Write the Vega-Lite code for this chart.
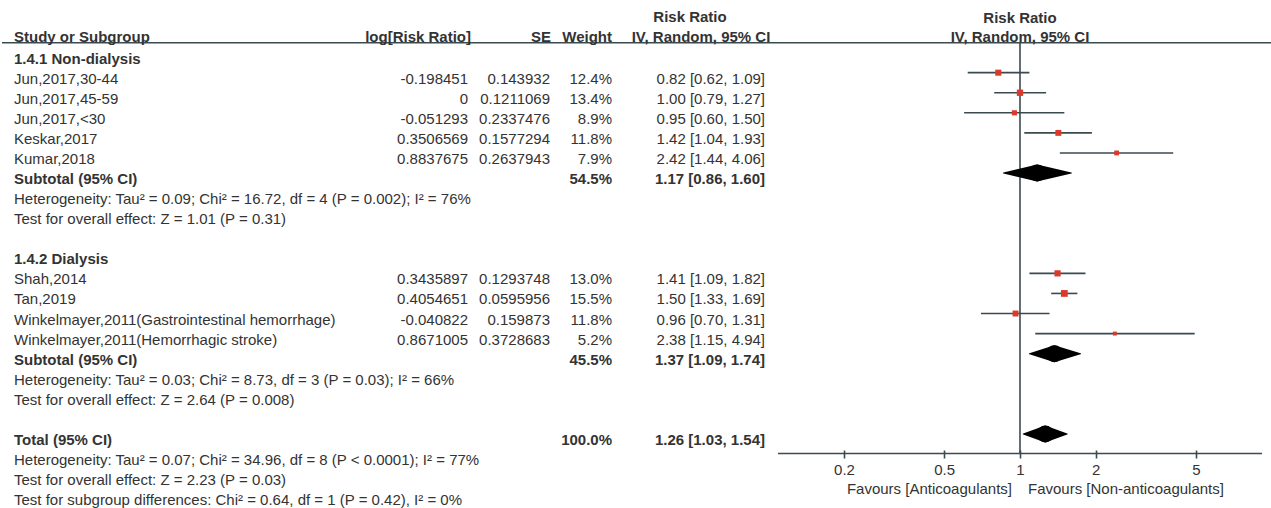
{
  "$schema": "https://vega.github.io/schema/vega-lite/v6.json",
  "padding": 0,
  "bounds": "flush",
  "spacing": 0,
  "background": "white",
  "config": {
    "view": {"stroke": null},
    "font": "Liberation Sans",
    "axisX": {"domain": false, "grid": false, "ticks": true, "tickSize": 8, "tickWidth": 1.6, "tickColor": "#3b4a50", "labelFontSize": 15, "labelColor": "#333333", "labelFont": "Liberation Sans", "labelPadding": 4, "labelFlush": false}
  },
  "datasets": {
    "table": [
      {"row": 0, "kind": "group", "label": "1.4.1 Non-dialysis"},
      {"row": 1, "kind": "study", "label": "Jun,2017,30-44", "logrr": "-0.198451", "se": "0.143932", "weight": "12.4%", "ci": "0.82 [0.62, 1.09]", "w": 12.4, "rr": 0.82, "lo": 0.62, "hi": 1.09},
      {"row": 2, "kind": "study", "label": "Jun,2017,45-59", "logrr": "0", "se": "0.1211069", "weight": "13.4%", "ci": "1.00 [0.79, 1.27]", "w": 13.4, "rr": 1.0, "lo": 0.79, "hi": 1.27},
      {"row": 3, "kind": "study", "label": "Jun,2017,<30", "logrr": "-0.051293", "se": "0.2337476", "weight": "8.9%", "ci": "0.95 [0.60, 1.50]", "w": 8.9, "rr": 0.95, "lo": 0.6, "hi": 1.5},
      {"row": 4, "kind": "study", "label": "Keskar,2017", "logrr": "0.3506569", "se": "0.1577294", "weight": "11.8%", "ci": "1.42 [1.04, 1.93]", "w": 11.8, "rr": 1.42, "lo": 1.04, "hi": 1.93},
      {"row": 5, "kind": "study", "label": "Kumar,2018", "logrr": "0.8837675", "se": "0.2637943", "weight": "7.9%", "ci": "2.42 [1.44, 4.06]", "w": 7.9, "rr": 2.42, "lo": 1.44, "hi": 4.06},
      {"row": 6, "kind": "subtotal", "label": "Subtotal (95% CI)", "weight": "54.5%", "ci": "1.17 [0.86, 1.60]", "rr": 1.17, "lo": 0.86, "hi": 1.6},
      {"row": 7, "kind": "note", "label": "Heterogeneity: Tau² = 0.09; Chi² = 16.72, df = 4 (P = 0.002); I² = 76%"},
      {"row": 8, "kind": "note", "label": "Test for overall effect: Z = 1.01 (P = 0.31)"},
      {"row": 10, "kind": "group", "label": "1.4.2 Dialysis"},
      {"row": 11, "kind": "study", "label": "Shah,2014", "logrr": "0.3435897", "se": "0.1293748", "weight": "13.0%", "ci": "1.41 [1.09, 1.82]", "w": 13.0, "rr": 1.41, "lo": 1.09, "hi": 1.82},
      {"row": 12, "kind": "study", "label": "Tan,2019", "logrr": "0.4054651", "se": "0.0595956", "weight": "15.5%", "ci": "1.50 [1.33, 1.69]", "w": 15.5, "rr": 1.5, "lo": 1.33, "hi": 1.69},
      {"row": 13, "kind": "study", "label": "Winkelmayer,2011(Gastrointestinal hemorrhage)", "logrr": "-0.040822", "se": "0.159873", "weight": "11.8%", "ci": "0.96 [0.70, 1.31]", "w": 11.8, "rr": 0.96, "lo": 0.7, "hi": 1.31},
      {"row": 14, "kind": "study", "label": "Winkelmayer,2011(Hemorrhagic stroke)", "logrr": "0.8671005", "se": "0.3728683", "weight": "5.2%", "ci": "2.38 [1.15, 4.94]", "w": 5.2, "rr": 2.38, "lo": 1.15, "hi": 4.94},
      {"row": 15, "kind": "subtotal", "label": "Subtotal (95% CI)", "weight": "45.5%", "ci": "1.37 [1.09, 1.74]", "rr": 1.37, "lo": 1.09, "hi": 1.74},
      {"row": 16, "kind": "note", "label": "Heterogeneity: Tau² = 0.03; Chi² = 8.73, df = 3 (P = 0.03); I² = 66%"},
      {"row": 17, "kind": "note", "label": "Test for overall effect: Z = 2.64 (P = 0.008)"},
      {"row": 19, "kind": "total", "label": "Total (95% CI)", "weight": "100.0%", "ci": "1.26 [1.03, 1.54]", "rr": 1.26, "lo": 1.03, "hi": 1.54},
      {"row": 20, "kind": "note", "label": "Heterogeneity: Tau² = 0.07; Chi² = 34.96, df = 8 (P < 0.0001); I² = 77%"},
      {"row": 21, "kind": "note", "label": "Test for overall effect: Z = 2.23 (P = 0.03)"},
      {"row": 22, "kind": "note", "label": "Test for subgroup differences: Chi² = 0.64, df = 1 (P = 0.42), I² = 0%"}
    ]
  },
  "hconcat": [
    {
      "width": 778,
      "height": 508,
      "layer": [
        {
          "data": {"values": [{}]},
          "mark": {"type": "rule", "stroke": "#3b4a50", "strokeWidth": 1.5},
          "encoding": {
            "x": {"datum": 2, "type": "quantitative", "scale": {"domain": [0, 778], "nice": false, "zero": false}, "axis": null},
            "x2": {"datum": 778},
            "y": {"datum": -0.49, "type": "quantitative", "scale": {"domain": [-2.621, 22.691], "reverse": true, "nice": false, "zero": false}, "axis": null}
          }
        },
        {
          "data": {"values": [{}]},
          "mark": {"type": "text", "align": "left", "baseline": "middle", "fontSize": 15, "fontWeight": "bold", "fill": "#333333"},
          "encoding": {
            "text": {"value": "Study or Subgroup"},
            "x": {"datum": 14, "type": "quantitative", "axis": null},
            "y": {"datum": -0.777, "type": "quantitative", "axis": null}
          }
        },
        {
          "data": {"values": [{}]},
          "mark": {"type": "text", "align": "right", "baseline": "middle", "fontSize": 15, "fontWeight": "bold", "fill": "#333333"},
          "encoding": {
            "text": {"value": "log[Risk Ratio]"},
            "x": {"datum": 471, "type": "quantitative", "axis": null},
            "y": {"datum": -0.777, "type": "quantitative", "axis": null}
          }
        },
        {
          "data": {"values": [{}]},
          "mark": {"type": "text", "align": "right", "baseline": "middle", "fontSize": 15, "fontWeight": "bold", "fill": "#333333"},
          "encoding": {
            "text": {"value": "SE"},
            "x": {"datum": 551, "type": "quantitative", "axis": null},
            "y": {"datum": -0.777, "type": "quantitative", "axis": null}
          }
        },
        {
          "data": {"values": [{}]},
          "mark": {"type": "text", "align": "right", "baseline": "middle", "fontSize": 15, "fontWeight": "bold", "fill": "#333333"},
          "encoding": {
            "text": {"value": "Weight"},
            "x": {"datum": 612, "type": "quantitative", "axis": null},
            "y": {"datum": -0.777, "type": "quantitative", "axis": null}
          }
        },
        {
          "data": {"values": [{}]},
          "mark": {"type": "text", "align": "center", "baseline": "middle", "fontSize": 15, "fontWeight": "bold", "fill": "#333333"},
          "encoding": {
            "text": {"value": "Risk Ratio"},
            "x": {"datum": 690, "type": "quantitative", "axis": null},
            "y": {"datum": -1.774, "type": "quantitative", "axis": null}
          }
        },
        {
          "data": {"values": [{}]},
          "mark": {"type": "text", "align": "center", "baseline": "middle", "fontSize": 15, "fontWeight": "bold", "fill": "#333333"},
          "encoding": {
            "text": {"value": "IV, Random, 95% CI"},
            "x": {"datum": 701, "type": "quantitative", "axis": null},
            "y": {"datum": -0.777, "type": "quantitative", "axis": null}
          }
        },
        {
          "data": {"name": "table"},
          "transform": [{"filter": "datum.kind === 'study' || datum.kind === 'note'"}],
          "mark": {"type": "text", "align": "left", "baseline": "middle", "fontSize": 15, "fill": "#333333", "dy": 6},
          "encoding": {
            "text": {"field": "label"},
            "x": {"datum": 14, "type": "quantitative", "axis": null},
            "y": {"field": "row", "type": "quantitative", "axis": null}
          }
        },
        {
          "data": {"name": "table"},
          "transform": [{"filter": "datum.kind === 'group' || datum.kind === 'subtotal' || datum.kind === 'total'"}],
          "mark": {"type": "text", "align": "left", "baseline": "middle", "fontSize": 15, "fontWeight": "bold", "fill": "#333333", "dy": 6},
          "encoding": {
            "text": {"field": "label"},
            "x": {"datum": 14, "type": "quantitative", "axis": null},
            "y": {"field": "row", "type": "quantitative", "axis": null}
          }
        },
        {
          "data": {"name": "table"},
          "transform": [{"filter": "datum.kind === 'study'"}],
          "mark": {"type": "text", "align": "right", "baseline": "middle", "fontSize": 15, "fill": "#333333", "dy": 6},
          "encoding": {
            "text": {"field": "logrr"},
            "x": {"datum": 468, "type": "quantitative", "axis": null},
            "y": {"field": "row", "type": "quantitative", "axis": null}
          }
        },
        {
          "data": {"name": "table"},
          "transform": [{"filter": "datum.kind === 'study'"}],
          "mark": {"type": "text", "align": "right", "baseline": "middle", "fontSize": 15, "fill": "#333333", "dy": 6},
          "encoding": {
            "text": {"field": "se"},
            "x": {"datum": 550, "type": "quantitative", "axis": null},
            "y": {"field": "row", "type": "quantitative", "axis": null}
          }
        },
        {
          "data": {"name": "table"},
          "transform": [{"filter": "datum.kind === 'study'"}],
          "mark": {"type": "text", "align": "right", "baseline": "middle", "fontSize": 15, "fill": "#333333", "dy": 6},
          "encoding": {
            "text": {"field": "weight"},
            "x": {"datum": 612, "type": "quantitative", "axis": null},
            "y": {"field": "row", "type": "quantitative", "axis": null}
          }
        },
        {
          "data": {"name": "table"},
          "transform": [{"filter": "datum.kind === 'subtotal' || datum.kind === 'total'"}],
          "mark": {"type": "text", "align": "right", "baseline": "middle", "fontSize": 15, "fontWeight": "bold", "fill": "#333333", "dy": 6},
          "encoding": {
            "text": {"field": "weight"},
            "x": {"datum": 612, "type": "quantitative", "axis": null},
            "y": {"field": "row", "type": "quantitative", "axis": null}
          }
        },
        {
          "data": {"name": "table"},
          "transform": [{"filter": "datum.kind === 'study'"}],
          "mark": {"type": "text", "align": "right", "baseline": "middle", "fontSize": 15, "fill": "#333333", "dy": 6},
          "encoding": {
            "text": {"field": "ci"},
            "x": {"datum": 765, "type": "quantitative", "axis": null},
            "y": {"field": "row", "type": "quantitative", "axis": null}
          }
        },
        {
          "data": {"name": "table"},
          "transform": [{"filter": "datum.kind === 'subtotal' || datum.kind === 'total'"}],
          "mark": {"type": "text", "align": "right", "baseline": "middle", "fontSize": 15, "fontWeight": "bold", "fill": "#333333", "dy": 6},
          "encoding": {
            "text": {"field": "ci"},
            "x": {"datum": 765, "type": "quantitative", "axis": null},
            "y": {"field": "row", "type": "quantitative", "axis": null}
          }
        }
      ]
    },
    {
      "width": 493,
      "height": 508,
      "layer": [
        {
          "data": {"name": "table"},
          "transform": [{"filter": "datum.kind === 'study'"}],
          "mark": {"type": "point", "shape": "square", "filled": true, "color": "#d93a2b", "opacity": 0},
          "encoding": {
            "x": {
              "field": "rr", "type": "quantitative",
              "scale": {"type": "log", "domain": [0.1094, 9.927], "nice": false},
              "axis": {"title": null, "values": [0.2, 0.5, 1, 2, 5], "format": "~g", "offset": -58, "orient": "bottom"}
            },
            "y": {"field": "row", "type": "quantitative", "scale": {"domain": [-2.621, 22.691], "reverse": true, "nice": false, "zero": false}, "axis": null},
            "size": {"field": "w", "type": "quantitative", "scale": {"domain": [0, 15.5], "range": [0, 46], "zero": true}, "legend": null}
          }
        },
        {
          "data": {"values": [{}]},
          "mark": {"type": "rule", "stroke": "#3b4a50", "strokeWidth": 1.5},
          "encoding": {
            "x": {"datum": 0.1094, "type": "quantitative"},
            "x2": {"datum": 9.927},
            "y": {"datum": -0.49, "type": "quantitative"}
          }
        },
        {
          "data": {"values": [{}]},
          "mark": {"type": "text", "align": "center", "baseline": "middle", "fontSize": 15, "fontWeight": "bold", "fill": "#333333"},
          "encoding": {
            "text": {"value": "Risk Ratio"},
            "x": {"datum": 1, "type": "quantitative"},
            "y": {"datum": -1.739, "type": "quantitative"}
          }
        },
        {
          "data": {"values": [{}]},
          "mark": {"type": "text", "align": "center", "baseline": "middle", "fontSize": 15, "fontWeight": "bold", "fill": "#333333"},
          "encoding": {
            "text": {"value": "IV, Random, 95% CI"},
            "x": {"datum": 1, "type": "quantitative"},
            "y": {"datum": -0.777, "type": "quantitative"}
          }
        },
        {
          "data": {"values": [{}]},
          "mark": {"type": "rule", "stroke": "#3b4a50", "strokeWidth": 1.6},
          "encoding": {
            "x": {"datum": 1, "type": "quantitative"},
            "y": {"datum": -0.49, "type": "quantitative"},
            "y2": {"datum": 19.975}
          }
        },
        {
          "data": {"values": [{}]},
          "mark": {"type": "rule", "stroke": "#3b4a50", "strokeWidth": 1.5},
          "encoding": {
            "x": {"datum": 0.1094, "type": "quantitative"},
            "x2": {"datum": 9.142},
            "y": {"datum": 19.975, "type": "quantitative"}
          }
        },
        {
          "data": {"name": "table"},
          "transform": [{"filter": "datum.kind === 'study'"}],
          "mark": {"type": "rule", "stroke": "#3b4a50", "strokeWidth": 1.6},
          "encoding": {
            "x": {"field": "lo", "type": "quantitative"},
            "x2": {"field": "hi"},
            "y": {"field": "row", "type": "quantitative"}
          }
        },
        {
          "data": {"name": "table"},
          "transform": [
            {"filter": "datum.kind === 'subtotal' || datum.kind === 'total'"},
            {"fold": ["lo", "rr"], "as": ["point", "value"]}
          ],
          "mark": {"type": "trail", "color": "black"},
          "encoding": {
            "x": {"field": "value", "type": "quantitative"},
            "y": {"field": "row", "type": "quantitative"},
            "detail": {"field": "row", "type": "nominal"},
            "size": {"field": "point", "type": "nominal", "scale": {"type": "point", "domain": ["lo", "rr"], "range": [0, 17], "padding": 0}, "legend": null}
          }
        },
        {
          "data": {"name": "table"},
          "transform": [
            {"filter": "datum.kind === 'subtotal' || datum.kind === 'total'"},
            {"fold": ["hi", "rr"], "as": ["point", "value"]}
          ],
          "mark": {"type": "trail", "color": "black"},
          "encoding": {
            "x": {"field": "value", "type": "quantitative"},
            "y": {"field": "row", "type": "quantitative"},
            "detail": {"field": "row", "type": "nominal"},
            "size": {"field": "point", "type": "nominal", "scale": {"type": "point", "domain": ["hi", "rr"], "range": [0, 17], "padding": 0}, "legend": null}
          }
        },
        {
          "data": {"values": [{}]},
          "mark": {"type": "text", "align": "right", "baseline": "middle", "fontSize": 15, "fill": "#333333", "dx": -8},
          "encoding": {
            "text": {"value": "Favours [Anticoagulants]"},
            "x": {"datum": 1, "type": "quantitative"},
            "y": {"datum": 21.75, "type": "quantitative"}
          }
        },
        {
          "data": {"values": [{}]},
          "mark": {"type": "text", "align": "left", "baseline": "middle", "fontSize": 15, "fill": "#333333", "dx": 8},
          "encoding": {
            "text": {"value": "Favours [Non-anticoagulants]"},
            "x": {"datum": 1, "type": "quantitative"},
            "y": {"datum": 21.75, "type": "quantitative"}
          }
        },
        {
          "data": {"name": "table"},
          "transform": [{"filter": "datum.kind === 'study'"}],
          "mark": {"type": "point", "shape": "square", "filled": true, "color": "#d93a2b", "opacity": 1, "strokeWidth": 0},
          "encoding": {
            "x": {"field": "rr", "type": "quantitative"},
            "y": {"field": "row", "type": "quantitative"},
            "size": {"field": "w", "type": "quantitative", "scale": {"domain": [0, 15.5], "range": [0, 46], "zero": true}, "legend": null}
          }
        }
      ]
    }
  ]
}
